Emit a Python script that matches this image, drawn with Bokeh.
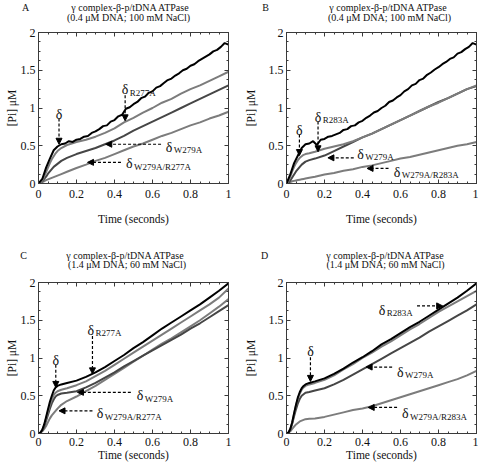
from bokeh.plotting import figure
from bokeh.layouts import column, row
from bokeh.models import (Range1d, LinearAxis, SingleIntervalTicker, NumeralTickFormatter,
                          CustomJSTickFormatter, Label, Arrow, NormalHead)
from bokeh.core.properties import value
from bokeh.embed import file_html
from bokeh.resources import INLINE

# ---------------- data ----------------
T = [0, 0.01, 0.02, 0.03, 0.04, 0.05, 0.06, 0.07, 0.08, 0.09, 0.10, 0.12, 0.15, 0.2, 0.25,
     0.3, 0.35, 0.4, 0.45, 0.5, 0.55, 0.6, 0.65, 0.7, 0.75, 0.8, 0.85, 0.9, 0.95, 1.0]
TF = [0, 0.02, 0.04, 0.06, 0.08, 0.10, 0.12, 0.14, 0.16, 0.18, 0.20, 0.22, 0.24, 0.26, 0.28,
      0.30, 0.32, 0.34, 0.36, 0.38, 0.40, 0.42, 0.44, 0.46, 0.48, 0.50, 0.52, 0.54, 0.56, 0.58,
      0.60, 0.62, 0.64, 0.66, 0.68, 0.70, 0.72, 0.74, 0.76, 0.78, 0.80, 0.82, 0.84, 0.86, 0.88,
      0.90, 0.92, 0.94, 0.96, 0.98, 1.00]

# Panel A
A_wt = [0, 0.06, 0.21, 0.33, 0.44, 0.49, 0.52, 0.53, 0.56, 0.55, 0.58, 0.59, 0.62, 0.63, 0.67,
        0.69, 0.72, 0.76, 0.77, 0.82, 0.84, 0.89, 0.91, 0.99, 1.01, 1.05, 1.08, 1.13, 1.15, 1.20,
        1.22, 1.27, 1.29, 1.33, 1.37, 1.39, 1.43, 1.46, 1.50, 1.52, 1.56, 1.58, 1.62, 1.65, 1.68,
        1.71, 1.75, 1.77, 1.81, 1.86, 1.84]
A_r277a = [0, 0.01, 0.04, 0.09, 0.15, 0.21, 0.27, 0.32, 0.36, 0.40, 0.43, 0.47, 0.51, 0.55, 0.58,
           0.62, 0.67, 0.73, 0.81, 0.87, 0.94, 1.00, 1.07, 1.12, 1.19, 1.25, 1.30, 1.36, 1.42, 1.48]
A_w279a = [0, 0.01, 0.03, 0.06, 0.09, 0.13, 0.16, 0.19, 0.22, 0.24, 0.26, 0.30, 0.34, 0.39, 0.43,
           0.47, 0.52, 0.57, 0.63, 0.70, 0.76, 0.82, 0.88, 0.94, 1.00, 1.06, 1.12, 1.18, 1.24, 1.30]
A_dbl = [0, 0.01, 0.02, 0.03, 0.045, 0.055, 0.065, 0.075, 0.085, 0.095, 0.105, 0.125, 0.155, 0.205, 0.25,
         0.30, 0.34, 0.39, 0.44, 0.49, 0.53, 0.58, 0.63, 0.67, 0.72, 0.77, 0.81, 0.86, 0.90, 0.95]

# Panel B
B_wt = [0, 0.12, 0.27, 0.37, 0.47, 0.52, 0.53, 0.56, 0.51, 0.58, 0.59, 0.62, 0.63, 0.65, 0.67,
        0.71, 0.72, 0.76, 0.77, 0.81, 0.83, 0.87, 0.90, 0.94, 0.96, 1.00, 1.03, 1.08, 1.10, 1.14,
        1.17, 1.22, 1.25, 1.30, 1.32, 1.37, 1.39, 1.44, 1.47, 1.51, 1.54, 1.58, 1.61, 1.65, 1.67,
        1.72, 1.74, 1.78, 1.81, 1.86, 1.84]
B_r283a = [0, 0.03, 0.09, 0.16, 0.22, 0.27, 0.31, 0.34, 0.36, 0.38, 0.39, 0.40, 0.42, 0.46, 0.49,
           0.52, 0.56, 0.61, 0.66, 0.72, 0.78, 0.84, 0.90, 0.96, 1.02, 1.07, 1.13, 1.19, 1.25, 1.30]
B_w279a = [0, 0.01, 0.04, 0.08, 0.12, 0.16, 0.19, 0.22, 0.25, 0.27, 0.29, 0.31, 0.33, 0.37, 0.43,
           0.49, 0.55, 0.61, 0.66, 0.72, 0.78, 0.84, 0.90, 0.96, 1.02, 1.08, 1.13, 1.19, 1.25, 1.29]
B_dbl = [0, 0.01, 0.02, 0.03, 0.035, 0.04, 0.045, 0.05, 0.055, 0.06, 0.065, 0.075, 0.09, 0.12, 0.14,
         0.17, 0.19, 0.22, 0.24, 0.27, 0.30, 0.33, 0.35, 0.38, 0.41, 0.44, 0.47, 0.50, 0.52, 0.55]

# Panel C
C_wt = [0, 0.01, 0.05, 0.12, 0.22, 0.32, 0.42, 0.50, 0.57, 0.61, 0.63, 0.65, 0.67, 0.70, 0.75,
        0.81, 0.88, 0.96, 1.04, 1.13, 1.21, 1.30, 1.39, 1.47, 1.55, 1.63, 1.71, 1.80, 1.89, 1.99]
C_r277a = [0, 0.01, 0.05, 0.11, 0.20, 0.29, 0.38, 0.45, 0.51, 0.54, 0.56, 0.58, 0.60, 0.64, 0.69,
           0.76, 0.83, 0.91, 0.99, 1.07, 1.15, 1.23, 1.31, 1.39, 1.47, 1.55, 1.63, 1.71, 1.80, 1.92]
C_w279a = [0, 0.01, 0.04, 0.09, 0.17, 0.25, 0.33, 0.40, 0.45, 0.49, 0.51, 0.53, 0.54, 0.56, 0.61,
           0.67, 0.74, 0.81, 0.89, 0.96, 1.03, 1.10, 1.17, 1.24, 1.31, 1.39, 1.46, 1.54, 1.62, 1.70]
C_dbl = [0, 0.01, 0.03, 0.06, 0.10, 0.15, 0.20, 0.24, 0.27, 0.30, 0.33, 0.38, 0.43, 0.49, 0.56,
         0.63, 0.71, 0.79, 0.87, 0.95, 1.03, 1.11, 1.19, 1.26, 1.34, 1.42, 1.50, 1.59, 1.68, 1.78]

# Panel D
D_wt = [0, 0.01, 0.06, 0.15, 0.27, 0.38, 0.48, 0.55, 0.60, 0.63, 0.65, 0.67, 0.69, 0.73, 0.79,
        0.86, 0.94, 1.01, 1.09, 1.18, 1.25, 1.33, 1.41, 1.48, 1.56, 1.64, 1.72, 1.80, 1.89, 1.99]
D_r283a = [0, 0.01, 0.06, 0.14, 0.26, 0.37, 0.46, 0.53, 0.58, 0.61, 0.63, 0.65, 0.67, 0.71, 0.77,
           0.85, 0.92, 1.00, 1.07, 1.15, 1.22, 1.30, 1.38, 1.45, 1.53, 1.61, 1.68, 1.75, 1.82, 1.89]
D_w279a = [0, 0.01, 0.05, 0.13, 0.23, 0.32, 0.40, 0.46, 0.50, 0.52, 0.54, 0.55, 0.57, 0.60, 0.65,
           0.71, 0.78, 0.85, 0.92, 0.99, 1.06, 1.13, 1.20, 1.27, 1.35, 1.42, 1.49, 1.56, 1.63, 1.71]
D_dbl = [0, 0.01, 0.03, 0.06, 0.09, 0.12, 0.14, 0.16, 0.17, 0.18, 0.19, 0.195, 0.20, 0.22, 0.25,
         0.28, 0.31, 0.33, 0.36, 0.40, 0.44, 0.48, 0.52, 0.56, 0.60, 0.64, 0.68, 0.72, 0.77, 0.83]

TITLE1 = "\u03b3 complex-\u03b2-p/tDNA ATPase"
COND_AB = "(0.4 \u03bcM DNA; 100 mM NaCl)"
COND_CD = "(1.4 \u03bcM DNA; 60 mM NaCl)"
XLABEL = "Time (seconds)"
YLABEL = "[Pi] \u03bcM"

# annotations: (label_x, label_baseline_y, subscript, arrow x0, y0, x1, y1)
NOTES_A = [(0.108, 0.91, "", 0.108, 0.86, 0.108, 0.52),
           (0.438, 1.24, "R277A", 0.456, 1.17, 0.456, 0.83),
           (0.670, 0.48, "W279A", 0.645, 0.52, 0.354, 0.52),
           (0.460, 0.26, "W279A/R277A", 0.434, 0.28, 0.258, 0.28)]
NOTES_B = [(0.068, 0.70, "", 0.068, 0.65, 0.068, 0.37),
           (0.149, 0.88, "R283A", 0.166, 0.82, 0.166, 0.42),
           (0.373, 0.39, "W279A", 0.354, 0.34, 0.218, 0.34),
           (0.564, 0.15, "W279A/R283A", 0.537, 0.20, 0.424, 0.20)]
NOTES_C = [(0.091, 0.97, "", 0.091, 0.91, 0.091, 0.61),
           (0.258, 1.37, "R277A", 0.284, 1.29, 0.284, 0.79),
           (0.517, 0.50, "W279A", 0.486, 0.545, 0.205, 0.545),
           (0.307, 0.26, "W279A/R277A", 0.284, 0.30, 0.108, 0.30)]
NOTES_D = [(0.126, 1.08, "", 0.126, 1.01, 0.126, 0.69),
           (0.485, 1.63, "R283A", 0.687, 1.69, 0.822, 1.69),
           (0.582, 0.81, "W279A", 0.556, 0.88, 0.419, 0.88),
           (0.608, 0.26, "W279A/R283A", 0.582, 0.345, 0.430, 0.345)]

FONT = "Liberation Serif"
TXT = "#111111"
BLACK = "#000000"
GRAY = "#7c7c7c"
DARK = "#464646"
FRAME = "#3a3a3a"


def make_title(letter, cond, width, height, letter_x, l1_x, l2_x, l1_y, l2_y):
    """A header strip holding the panel letter and the two title lines (pixel coords)."""
    t = figure(width=width, height=height, x_range=Range1d(0, width), y_range=Range1d(0, height),
               x_axis_type=None, y_axis_type=None, output_backend="svg", toolbar_location=None,
               min_border=0, outline_line_color=None, frame_align=False)
    t.grid.visible = False
    kw = dict(text_font=value(FONT), text_font_size=value("10px"), text_color=TXT,
              text_align=value("center"), text_baseline=value("middle"))
    t.text(x=[letter_x, l1_x, l2_x], y=[l1_y, l1_y, l2_y], text=[letter, TITLE1, cond], **kw)
    return t


def make_panel(series, notes, width, height, bl, br, bt, bb, ylab_stand, xl_stand, xax_stand):
    p = figure(width=width, height=height, x_range=Range1d(0, 1), y_range=Range1d(0, 2),
               output_backend="svg", toolbar_location=None, frame_align=False,
               min_border_left=bl, min_border_right=br, min_border_top=bt, min_border_bottom=bb)
    p.grid.visible = False
    p.outline_line_color = FRAME
    p.outline_line_width = 1
    for xs, ys, color, w in series:
        p.line(xs, ys, line_color=color, line_width=w)

    def style(ax, ticker, labels=True):
        ax.ticker = ticker
        ax.axis_line_color = FRAME
        ax.major_tick_line_color = FRAME
        ax.minor_tick_line_color = FRAME
        ax.major_tick_in = 4
        ax.major_tick_out = 0
        ax.minor_tick_in = 2
        ax.minor_tick_out = 0
        ax.major_label_text_font = FONT
        ax.major_label_text_color = TXT
        ax.axis_label_text_font = FONT
        ax.axis_label_text_font_style = "normal"
        ax.axis_label_text_color = TXT
        ax.axis_label_text_font_size = "11.5px"
        if labels:
            ax.major_label_text_font_size = "12px"
            ax.formatter = NumeralTickFormatter(format="0.[0]")
        else:
            ax.major_label_text_font_size = "0px"
            ax.major_label_standoff = 0
            ax.formatter = CustomJSTickFormatter(code="return ''")

    xt = lambda: SingleIntervalTicker(interval=0.2, num_minor_ticks=4)
    yt = lambda: SingleIntervalTicker(interval=0.5, num_minor_ticks=4)
    style(p.xaxis[0], xt())
    style(p.yaxis[0], yt())
    p.xaxis[0].axis_label = XLABEL
    p.yaxis[0].axis_label = YLABEL
    p.xaxis[0].major_label_standoff = xl_stand
    p.xaxis[0].axis_label_standoff = xax_stand
    p.yaxis[0].major_label_standoff = 3
    p.yaxis[0].axis_label_standoff = ylab_stand
    top = LinearAxis()
    style(top, xt(), labels=False)
    p.add_layout(top, "above")
    right = LinearAxis()
    style(right, yt(), labels=False)
    p.add_layout(right, "right")

    for lx, ly, sub, x0, y0, x1, y1 in notes:
        if sub == "":
            p.add_layout(Label(x=lx, y=ly, text="\u03b4", text_font=FONT, text_font_size="14px",
                               text_align="center", text_baseline="alphabetic", text_color=TXT))
        else:
            p.add_layout(Label(x=lx, y=ly, text="\u03b4", text_font=FONT, text_font_size="14px",
                               text_align="left", text_baseline="alphabetic", text_color=TXT))
            p.add_layout(Label(x=lx, y=ly, x_offset=8, y_offset=-3, text=sub, text_font=FONT,
                               text_font_size="9px", text_align="left", text_baseline="alphabetic",
                               text_color=TXT))
        p.add_layout(Arrow(x_start=x0, y_start=y0, x_end=x1, y_end=y1, line_color=BLACK,
                           line_width=1.2, line_dash="3 2",
                           end=NormalHead(size=6, fill_color=BLACK, line_color=BLACK, line_width=1)))
    return p


tA = make_title("A", COND_AB, 240, 24, 25, 130, 128, 17, 7.5)
tB = make_title("B", COND_AB, 238, 24, 25, 148, 149, 17, 7.5)
tC = make_title("C", COND_CD, 240, 34, 23, 125, 126.5, 19, 10)
tD = make_title("D", COND_CD, 238, 34, 24, 145, 145, 19, 10)

pA = make_panel([(T, A_dbl, GRAY, 2), (T, A_w279a, DARK, 2), (T, A_r277a, GRAY, 2), (TF, A_wt, BLACK, 2)],
                NOTES_A, 240, 216, 38, 12, 8, 57, 0, 6, 12)
pB = make_panel([(T, B_dbl, GRAY, 2), (T, B_w279a, DARK, 2), (T, B_r283a, GRAY, 2), (TF, B_wt, BLACK, 2)],
                NOTES_B, 238, 216, 46, 2, 8, 57, 9, 6, 12)
pC = make_panel([(T, C_dbl, GRAY, 2), (T, C_w279a, DARK, 2), (T, C_r277a, GRAY, 2), (T, C_wt, BLACK, 2)],
                NOTES_C, 240, 200, 38, 12, 8, 41, 0, 4, 0)
pD = make_panel([(T, D_dbl, GRAY, 2), (T, D_w279a, DARK, 2), (T, D_r283a, GRAY, 2), (T, D_wt, BLACK, 2)],
                NOTES_D, 238, 200, 46, 2, 8, 41, 9, 4, 0)

page = column(row(column(tA, pA), column(tB, pB)),
              row(column(tC, pC), column(tD, pD)))
open("out.html", "w").write(file_html(page, INLINE))
